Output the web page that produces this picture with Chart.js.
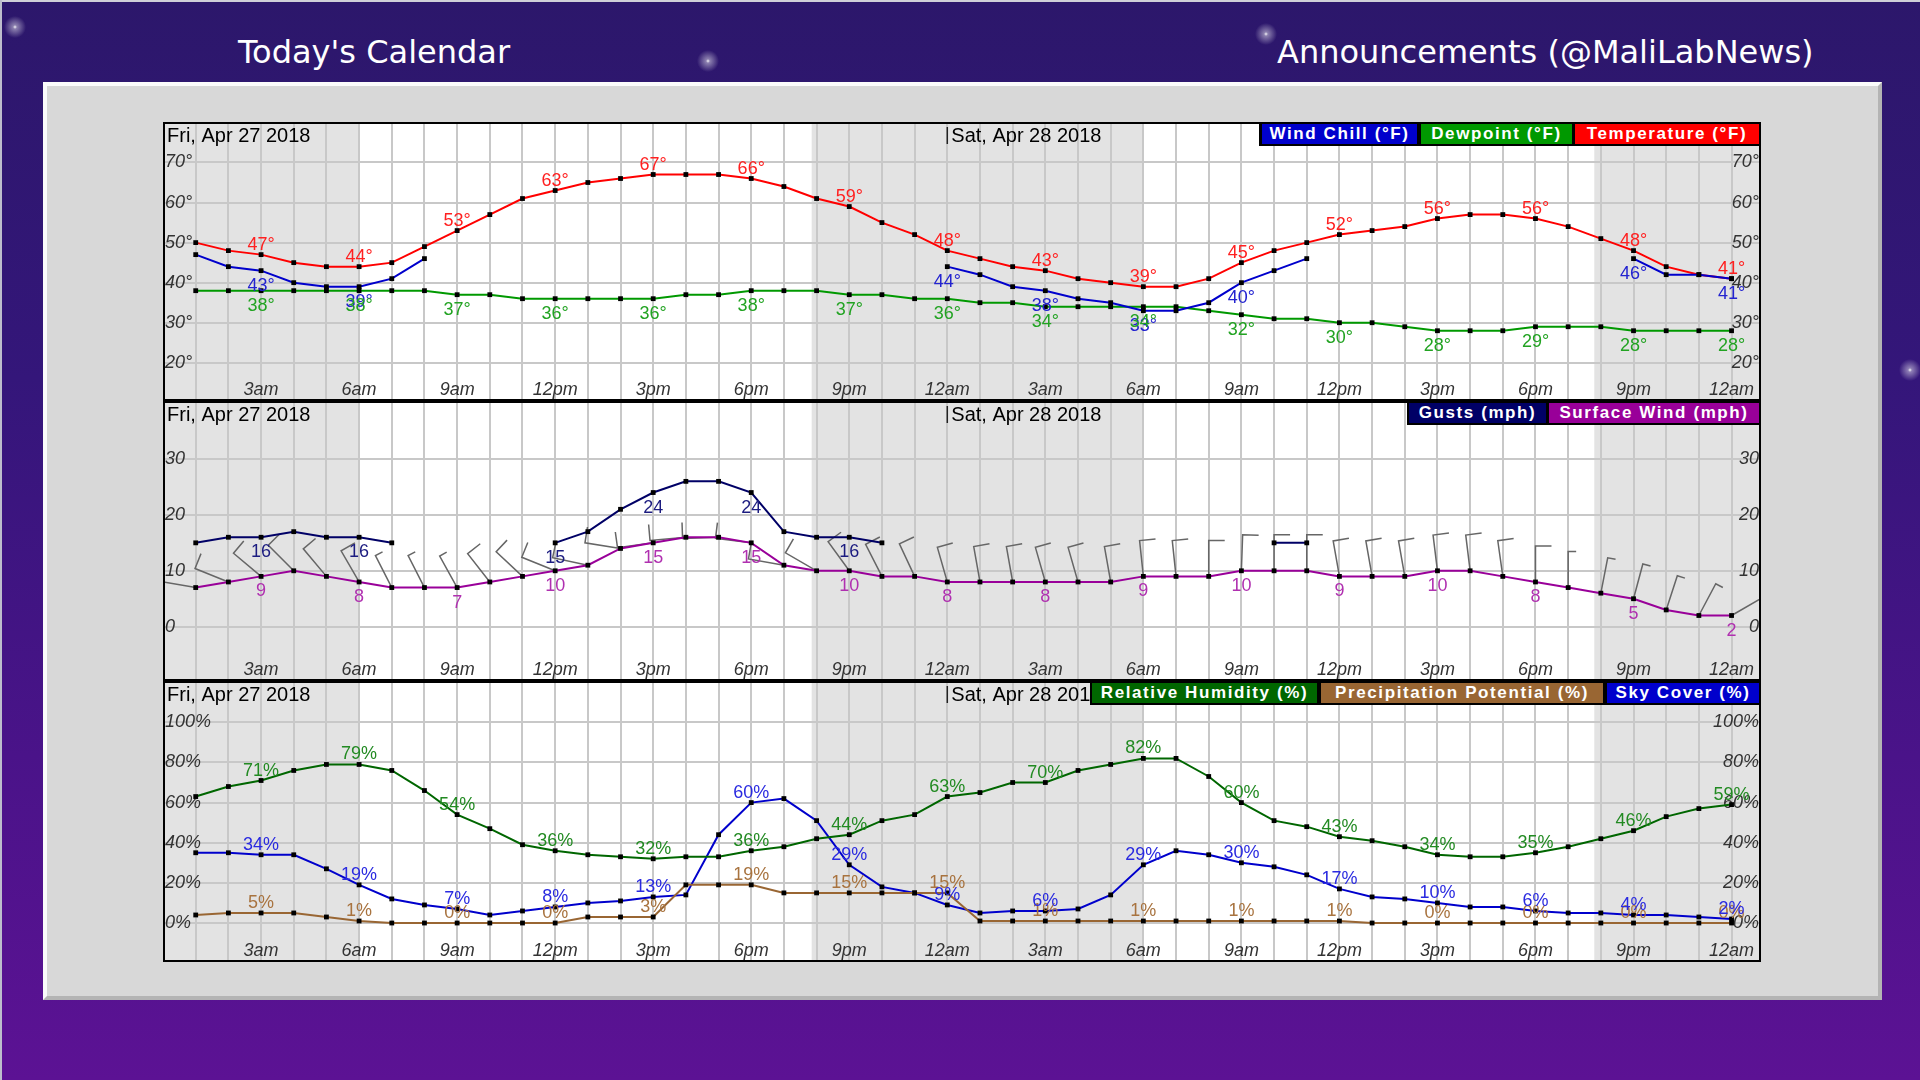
<!DOCTYPE html>
<html>
<head>
<meta charset="utf-8">
<title>Today's Calendar</title>
<script src="https://cdn.jsdelivr.net/npm/chart.js@4.4.1/dist/chart.umd.min.js"></script>
<style>
  html, body { margin: 0; padding: 0; }
  body {
    width: 1920px; height: 1080px; overflow: hidden; position: relative;
    background: linear-gradient(180deg, #2c176b 0%, #34167a 35%, #4a1389 70%, #5c1294 100%);
  }
  .edge-top  { position: absolute; left: 0; top: 0; width: 1920px; height: 2px; background: #cfcfd8; }
  .edge-left { position: absolute; left: 0; top: 0; width: 2px; height: 1080px; background: #bdbdcc; }
  .spark { position: absolute; width: 26px; height: 26px; margin: -13px 0 0 -13px;
           background: radial-gradient(circle, rgba(255,255,255,.95) 0, rgba(255,255,255,.45) 2px, rgba(255,255,255,0) 11px); }
  .title { position: absolute; top: 33px; height: 38px; line-height: 38px; color: #fff;
           font-family: "DejaVu Sans", sans-serif; font-size: 32px; white-space: nowrap; }
  #frame { position: absolute; left: 43px; top: 82px; width: 1839px; height: 918px; box-sizing: border-box;
           background: #d8d8d8; border: 4px solid; border-color: #fbfbfb #b4b4b4 #b4b4b4 #fbfbfb; }
  #plot  { position: absolute; left: 163px; top: 122px; width: 1598px; height: 840px; box-sizing: border-box;
           border: 2px solid #000; background: #000; }
  .panel { position: relative; width: 1594px; }
  .panel + .panel { margin-top: 4px; }
  .panel canvas { display: block; }
  .legend { position: absolute; top: 0; height: 22px; background: #000; }
  .legend span { position: absolute; top: 0; height: 20px; line-height: 20px; text-align: center; color: #fff;
                 font: bold 17px "Liberation Sans", Arial, sans-serif; letter-spacing: 1.6px; white-space: nowrap; }
</style>
</head>
<body>
<div class="edge-top"></div>
<div class="edge-left"></div>
<div class="spark" style="left:15px;top:27px"></div>
<div class="spark" style="left:708px;top:61px"></div>
<div class="spark" style="left:1266px;top:34px"></div>
<div class="spark" style="left:1910px;top:370px"></div>

<div class="title" style="left:238px">Today's Calendar</div>
<div class="title" style="left:1277px">Announcements (@MaliLabNews)</div>

<div id="frame"></div>

<div id="plot">
  <div class="panel">
    <canvas id="tempChart" width="1594" height="275"></canvas>
    <div class="legend" style="left:1094px;width:500px">
      <span style="left:3px;width:155px;background:#0000cc">Wind Chill (°F)</span>
      <span style="left:162px;width:151px;background:#009900">Dewpoint (°F)</span>
      <span style="left:316px;width:184px;background:#ff0000">Temperature (°F)</span>
    </div>
  </div>
  <div class="panel">
    <canvas id="windChart" width="1594" height="276"></canvas>
    <div class="legend" style="left:1242px;width:352px">
      <span style="left:2px;width:137px;background:#000066">Gusts (mph)</span>
      <span style="left:142px;width:210px;background:#990099">Surface Wind (mph)</span>
    </div>
  </div>
  <div class="panel">
    <canvas id="pctChart" width="1594" height="277"></canvas>
    <div class="legend" style="left:925px;width:669px">
      <span style="left:2px;width:225px;background:#006600">Relative Humidity (%)</span>
      <span style="left:231px;width:282px;background:#996633">Precipitation Potential (%)</span>
      <span style="left:517px;width:152px;background:#0000cc">Sky Cover (%)</span>
    </div>
  </div>
</div>

<script>
/* ── Data (hourly, Fri 1am → Sun 12am) ───────────────────────────────── */
const HOURS = [1, 2, 3, 4, 5, 6, 7, 8, 9, 10, 11, 12, 13, 14, 15, 16, 17, 18, 19, 20, 21, 22, 23, 24,
               25, 26, 27, 28, 29, 30, 31, 32, 33, 34, 35, 36, 37, 38, 39, 40, 41, 42, 43, 44, 45, 46, 47, 48];

const TICK_HOURS  = [3, 6, 9, 12, 15, 18, 21, 24, 27, 30, 33, 36, 39, 42, 45, 48];
const TICK_LABELS = ['3am', '6am', '9am', '12pm', '3pm', '6pm', '9pm', '12am',
                     '3am', '6am', '9am', '12pm', '3pm', '6pm', '9pm', '12am'];

const DAY_LABELS = ['Fri, Apr 27 2018', 'Sat, Apr 28 2018'];
const DAY_START  = [0, 24];

const NIGHT_START = [0, 19.85, 43.8];
const NIGHT_END   = [6.0, 30.0, 49];

const TEMP  = [50, 48, 47, 45, 44, 44, 45, 49, 53, 57, 61, 63, 65, 66, 67, 67, 67, 66, 64, 61, 59, 55, 52, 48,
               46, 44, 43, 41, 40, 39, 39, 41, 45, 48, 50, 52, 53, 54, 56, 57, 57, 56, 54, 51, 48, 44, 42, 41];
const DEW   = [38, 38, 38, 38, 38, 38, 38, 38, 37, 37, 36, 36, 36, 36, 36, 37, 37, 38, 38, 38, 37, 37, 36, 36,
               35, 35, 34, 34, 34, 34, 34, 33, 32, 31, 31, 30, 30, 29, 28, 28, 28, 29, 29, 29, 28, 28, 28, 28];
const CHILL = [47, 44, 43, 40, 39, 39, 41, 46, null, null, null, null, null, null, null, null, null, null, null, null, null, null, null, 44,
               42, 39, 38, 36, 35, 33, 33, 35, 40, 43, 46, null, null, null, null, null, null, null, null, null, 46, 42, 42, 41];

const WIND  = [7, 8, 9, 10, 9, 8, 7, 7, 7, 8, 9, 10, 11, 14, 15, 16, 16, 15, 11, 10, 10, 9, 9, 8,
               8, 8, 8, 8, 8, 9, 9, 9, 10, 10, 10, 9, 9, 9, 10, 10, 9, 8, 7, 6, 5, 3, 2, 2];
const GUST  = [15, 16, 16, 17, 16, 16, 15, null, null, null, null, 15, 17, 21, 24, 26, 26, 24, 17, 16, 16, 15, null, null,
               null, null, null, null, null, null, null, null, null, 15, 15, null, null, null, null, null, null, null, null, null, null, null, null, null];
const WIND_DIR = [280, 292, 310, 315, 320, 330, 333, 333, 331, 322, 313, 292, 282, 279, 262, 265, 268, 277, 280, 300, 324, 333, 335, 344,
                  350, 350, 344, 344, 350, 354, 354, 0, 2, 0, 0, 350, 350, 350, 353, 353, 352, 0, 0, 11, 15, 18, 28, 60];

const RH     = [63, 68, 71, 76, 79, 79, 76, 66, 54, 47, 39, 36, 34, 33, 32, 33, 33, 36, 38, 42, 44, 51, 54, 63,
                65, 70, 70, 76, 79, 82, 82, 73, 60, 51, 48, 43, 41, 38, 34, 33, 33, 35, 38, 42, 46, 53, 57, 59];
const PRECIP = [4, 5, 5, 5, 3, 1, 0, 0, 0, 0, 0, 0, 3, 3, 3, 19, 19, 19, 15, 15, 15, 15, 15, 15,
                1, 1, 1, 1, 1, 1, 1, 1, 1, 1, 1, 1, 0, 0, 0, 0, 0, 0, 0, 0, 0, 0, 0, 0];
const SKY    = [35, 35, 34, 34, 27, 19, 12, 9, 7, 4, 6, 8, 10, 11, 13, 14, 44, 60, 62, 51, 29, 18, 15, 9,
                5, 6, 6, 7, 14, 29, 36, 34, 30, 28, 24, 17, 13, 12, 10, 8, 8, 6, 5, 5, 4, 4, 3, 2];

const TEMP_TICKS = [20, 30, 40, 50, 60, 70];
const WIND_TICKS = [0, 10, 20, 30];
const PCT_TICKS  = [0, 20, 40, 60, 80, 100];

/* ── Styling ─────────────────────────────────────────────────────────── */
const X_MIN = 0.06, X_MAX = 48.84;
const GRID_COLOR  = '#c8c8c8';
const NIGHT_COLOR = '#e3e3e3';
const TICK_COLOR  = '#333';
const BARB_COLOR  = '#666';
const FONT = '"Liberation Sans", Arial, sans-serif';

/* ── Plugins ─────────────────────────────────────────────────────────── */
const nightShade = {
  id: 'nightShade',
  beforeDraw(chart) {
    const { ctx, chartArea: a, scales: { x } } = chart;
    ctx.save();
    ctx.fillStyle = '#fff';
    ctx.fillRect(0, 0, chart.width, chart.height);
    ctx.fillStyle = NIGHT_COLOR;
    NIGHT_START.forEach((s, i) => {
      const l = Math.max(a.left, x.getPixelForValue(s));
      const r = Math.min(a.right, x.getPixelForValue(NIGHT_END[i]));
      if (r > l) ctx.fillRect(l, a.top, r - l, a.height);
    });
    ctx.restore();
  }
};

const dayLabels = {
  id: 'dayLabels',
  beforeDatasetsDraw(chart) {
    const { ctx, chartArea: a, scales: { x } } = chart;
    ctx.save();
    ctx.font = '20px ' + FONT;
    ctx.fillStyle = '#000';
    ctx.strokeStyle = '#222';
    ctx.lineWidth = 1.5;
    DAY_LABELS.forEach((txt, i) => {
      const px = x.getPixelForValue(DAY_START[i]);
      ctx.beginPath();
      ctx.moveTo(px, a.top + 3);
      ctx.lineTo(px, a.top + 20);
      ctx.stroke();
      ctx.fillText(txt, px + 4, a.top + 18);
    });
    ctx.restore();
  }
};

const windBarbs = {
  id: 'windBarbs',
  beforeDatasetsDraw(chart) {
    const { ctx, chartArea: a } = chart;
    const meta = chart.getDatasetMeta(1);      // surface wind
    ctx.save();
    ctx.beginPath();
    ctx.rect(a.left, a.top, a.width, a.height);
    ctx.clip();
    ctx.strokeStyle = BARB_COLOR;
    ctx.lineWidth = 1.5;
    meta.data.forEach((pt, j) => {
      const rad = WIND_DIR[j] * Math.PI / 180;
      const dx = Math.sin(rad), dy = -Math.cos(rad);
      const tx = pt.x + dx * 36, ty = pt.y + dy * 36;
      const f = WIND[j] >= 8 ? 16 : 8;
      ctx.beginPath();
      ctx.moveTo(pt.x, pt.y);
      ctx.lineTo(tx, ty);
      ctx.lineTo(tx - dy * f, ty + dx * f);
      ctx.stroke();
    });
    ctx.restore();
  }
};

const valueLabels = {
  id: 'valueLabels',
  afterDatasetsDraw(chart) {
    const ctx = chart.ctx;
    ctx.save();
    ctx.font = '18px ' + FONT;
    ctx.textAlign = 'center';
    chart.data.datasets.forEach((ds, i) => {
      const meta = chart.getDatasetMeta(i);
      meta.data.forEach((pt, j) => {
        const d = ds.data[j];
        if (d.y == null || !TICK_HOURS.includes(d.x)) return;
        ctx.fillStyle = ds.labelColor;
        ctx.fillText(d.y + ds.unit, pt.x, pt.y + ds.labelDy);
      });
    });
    ctx.restore();
  }
};

// keep the axes from taking any room: all tick labels sit inside the plot
const flatX = s => { s.height = 0; s.paddingLeft = 0; s.paddingRight = 0; s.paddingTop = 0; s.paddingBottom = 0; };
const flatY = s => { s.width = 0; s.paddingLeft = 0; s.paddingRight = 0; s.paddingTop = 0; s.paddingBottom = 0; };

/* ── Panel factory ───────────────────────────────────────────────────── */
function makePanel(id, yMin, yMax, yTicks, unit, series, extraPlugins) {
  const tickFont = { family: FONT, size: 18, style: 'italic', lineHeight: 1 };
  return new Chart(document.getElementById(id), {
    type: 'line',
    data: {
      datasets: series.map(s => ({
        label: s.label,
        data: HOURS.map((h, i) => ({ x: h, y: s.values[i] })),
        borderColor: s.color,
        borderWidth: 2,
        tension: 0,
        spanGaps: false,
        pointStyle: 'rect',
        pointRadius: 3.4,
        pointBackgroundColor: '#000',
        pointBorderWidth: 0,
        labelColor: s.labelColor,
        labelDy: s.labelDy,
        unit: unit
      }))
    },
    options: {
      responsive: false,
      animation: false,
      events: [],
      devicePixelRatio: 1,
      layout: { padding: 0, autoPadding: false },
      plugins: { legend: { display: false }, tooltip: { enabled: false } },
      scales: {
        x: {
          type: 'linear', min: X_MIN, max: X_MAX,
          afterBuildTicks: s => { s.ticks = HOURS.map(h => ({ value: h })); },
          afterFit: flatX,
          grid: { color: GRID_COLOR, lineWidth: 2, drawTicks: false },
          border: { display: false },
          ticks: {
            mirror: true, padding: 0, autoSkip: false, maxRotation: 0, minRotation: 0,
            font: tickFont, color: TICK_COLOR,
            callback: v => { const k = TICK_HOURS.indexOf(v); return k < 0 ? '' : TICK_LABELS[k]; }
          }
        },
        y: {
          position: 'left', min: yMin, max: yMax,
          afterBuildTicks: s => { s.ticks = yTicks.map(v => ({ value: v })); },
          afterFit: flatY,
          grid: { color: GRID_COLOR, lineWidth: 2, drawTicks: false },
          border: { display: false },
          ticks: { mirror: true, padding: 0, font: tickFont, color: TICK_COLOR, callback: v => v + unit }
        },
        y2: {
          position: 'right', min: yMin, max: yMax,
          afterBuildTicks: s => { s.ticks = yTicks.map(v => ({ value: v })); },
          afterFit: flatY,
          grid: { display: false, drawTicks: false },
          border: { display: false },
          ticks: { mirror: true, padding: 0, font: tickFont, color: TICK_COLOR, callback: v => v + unit }
        }
      }
    },
    plugins: [nightShade, dayLabels].concat(extraPlugins || [], [valueLabels])
  });
}

makePanel('tempChart', 10.96, 79.61, TEMP_TICKS, '°', [
  { label: 'Wind Chill (°F)',  values: CHILL, color: '#0000cc', labelColor: '#2323d0', labelDy: 20 },
  { label: 'Dewpoint (°F)',    values: DEW,   color: '#009900', labelColor: '#22a322', labelDy: 20 },
  { label: 'Temperature (°F)', values: TEMP,  color: '#ff0000', labelColor: '#ff2020', labelDy: -5 }
]);

makePanel('windChart', -9.36, 40.02, WIND_TICKS, '', [
  { label: 'Gusts (mph)',        values: GUST, color: '#000066', labelColor: '#1c1c80', labelDy: 20 },
  { label: 'Surface Wind (mph)', values: WIND, color: '#990099', labelColor: '#b030b0', labelDy: 20 }
], [windBarbs]);

makePanel('pctChart', -18.43, 119.58, PCT_TICKS, '%', [
  { label: 'Relative Humidity (%)',       values: RH,     color: '#006600', labelColor: '#228a22', labelDy: -5 },
  { label: 'Precipitation Potential (%)', values: PRECIP, color: '#996633', labelColor: '#a8733f', labelDy: -5 },
  { label: 'Sky Cover (%)',               values: SKY,    color: '#0000cc', labelColor: '#2a2ae0', labelDy: -5 }
]);
</script>
</body>
</html>
